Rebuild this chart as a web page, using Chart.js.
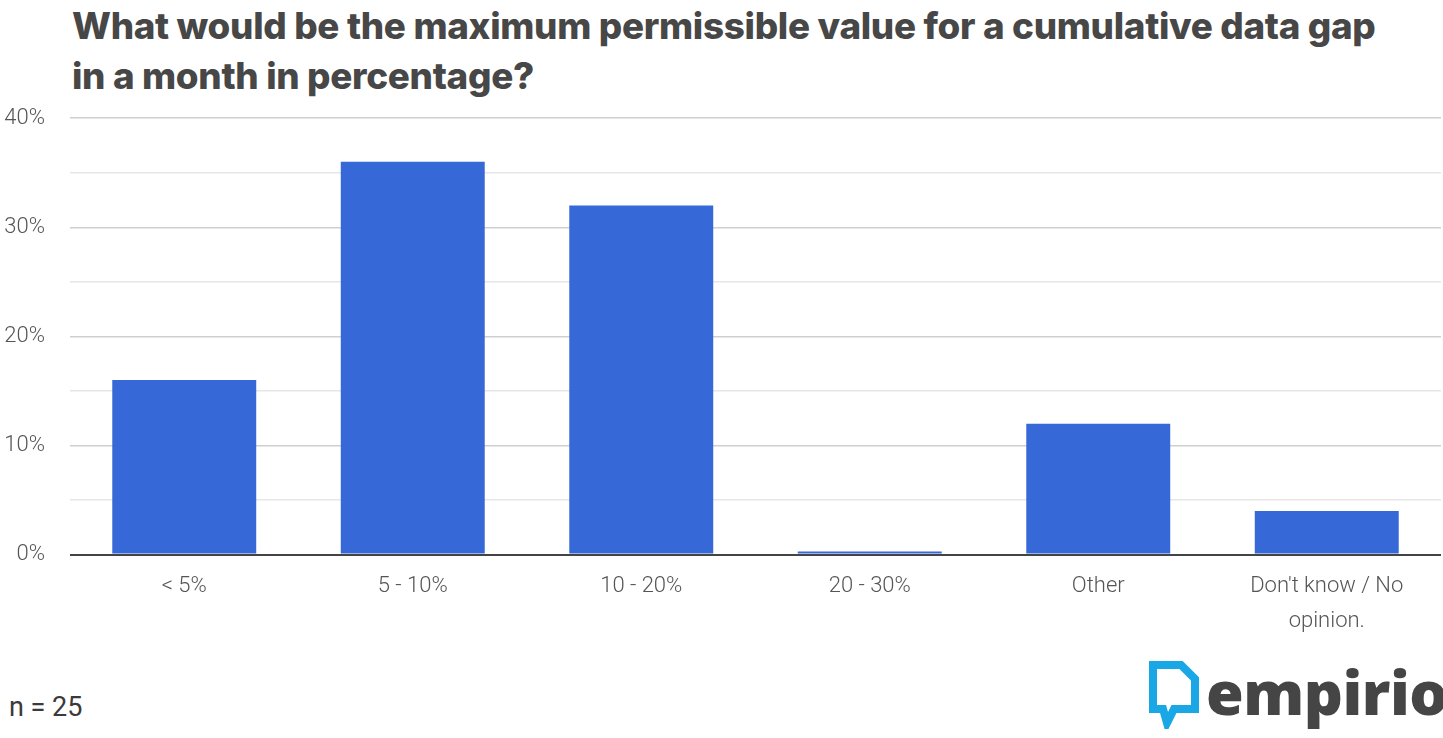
<!DOCTYPE html>
<html>
<head>
<meta charset="utf-8">
<script src="https://cdn.jsdelivr.net/npm/chart.js@4/dist/chart.umd.min.js"></script>
<style>
  html, body { margin: 0; padding: 0; background: #fff; width: 1443px; height: 738px; overflow: hidden; }
  #title { position: absolute; left: 72px; top: 1px; margin: 0; font-family: Inter, "Open Sans", sans-serif; font-weight: 800; font-size: 36.8px; line-height: 50px; color: #474747; letter-spacing: -0.3px; white-space: nowrap; }
  #wrap { position: absolute; left: 0; top: 80px; width: 1443px; height: 565px; }
  #note { position: absolute; left: 9px; top: 691px; font-family: Roboto, sans-serif; font-size: 27px; color: #3a3a3a; }
  #logo { position: absolute; left: 1148px; top: 654px; white-space: nowrap; font-family: "Open Sans", Lato, sans-serif; font-weight: 800; font-size: 61px; line-height: 76px; color: #454545; letter-spacing: -0.5px; }
  #logo svg { vertical-align: -14px; margin-right: 6px; }
</style>
</head>
<body>
<div id="title">What would be the maximum permissible value for a cumulative data gap<br>in a month in percentage?</div>
<div id="wrap"><canvas id="gapChart"></canvas></div>
<div id="note">n = 25</div>
<div id="logo"><svg width="52" height="70" viewBox="0 0 52 70"><path d="M5 6 H33 L47 20 V50 H26 L19 64 L15 50 H5 Z" fill="none" stroke="#1aa7e6" stroke-width="8" stroke-linejoin="miter"/></svg>empirio</div>
<script>
const categories = ['< 5%', '5 - 10%', '10 - 20%', '20 - 30%', 'Other', ["Don't know / No", 'opinion.']];
const shares = [16, 36, 32, 0, 12, 4]; // percent of respondents
const yTicks = [0, 10, 20, 30, 40];

const ctx = document.getElementById('gapChart').getContext('2d');

new Chart(ctx, {
    type: 'bar',
    data: {
        labels: categories,
        datasets: [{
            data: shares,
            backgroundColor: '#3768d8',
            categoryPercentage: 1,
            barPercentage: 0.63,
            minBarLength: 3
        }]
    },
    options: {
        responsive: true,
        maintainAspectRatio: false,
        animation: false,
        layout: { padding: { top: 12, right: 2, left: 0, bottom: 0 } },
        plugins: {
            legend: { display: false },
            tooltip: { enabled: false }
        },
        scales: {
            x: {
                grid: { display: false },
                border: { display: false },
                ticks: {
                    color: '#555',
                    padding: 6,
                    maxRotation: 0,
                    font: { family: 'Roboto', size: 22, weight: '300', lineHeight: 1.6 }
                }
            },
            y: {
                min: 0,
                max: 40,
                border: { display: false },
                afterFit: axis => { axis.width = 70; },
                afterBuildTicks: axis => {
                    const all = [];
                    for (let v = yTicks[0]; v <= yTicks[yTicks.length - 1]; v += 5) all.push({ value: v });
                    axis.ticks = all;
                },
                grid: {
                    drawTicks: false,
                    lineWidth: ctx => ctx.tick.value === 0 ? 2 : 1.5,
                    color: ctx => {
                        if (ctx.tick.value === 0) return '#444';
                        return yTicks.includes(ctx.tick.value) ? '#cfcfcf' : '#e6e6e6';
                    }
                },
                ticks: {
                    color: '#555',
                    padding: 25,
                    font: { family: 'Roboto', size: 22, weight: '300' },
                    callback: v => yTicks.includes(v) ? v + '%' : ''
                }
            }
        }
    }
});
</script>
</body>
</html>
